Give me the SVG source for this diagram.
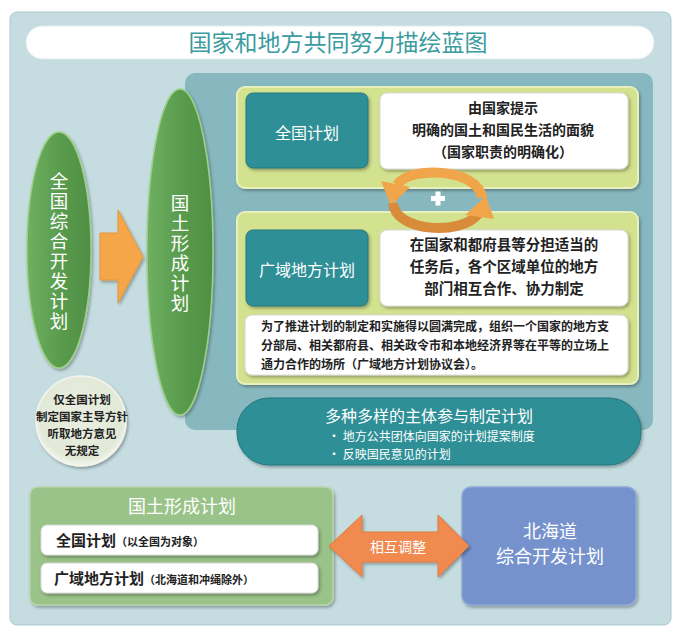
<svg xmlns="http://www.w3.org/2000/svg" width="680" height="638" viewBox="0 0 680 638">
<defs>
<filter id="sh" x="-10%" y="-10%" width="130%" height="130%"><feDropShadow dx="1.5" dy="2" stdDeviation="1.5" flood-color="#000" flood-opacity="0.3"/></filter>
<linearGradient id="gEl" x1="0" y1="0" x2="1" y2="0"><stop offset="0" stop-color="#6fb062"/><stop offset="0.5" stop-color="#5a9c4e"/><stop offset="1" stop-color="#4f8f44"/></linearGradient>
<radialGradient id="gCir" cx="0.5" cy="0.45" r="0.55"><stop offset="0" stop-color="#e9eee0"/><stop offset="0.85" stop-color="#e3e9d8"/><stop offset="1" stop-color="#f4f6ee"/></radialGradient>
</defs>
<style>
.cjk{font-family:"Noto Sans CJK SC","Noto Sans CJK JP",sans-serif}
.w{fill:#fff}
.d{fill:#222;font-weight:bold}
.teal{fill:#2e8f97;stroke:#25777e;stroke-width:1}
.wbox{fill:#fff;stroke:#d8d8d8;stroke-width:1}
.gbox{fill:#d3e28e;stroke:#e8f0bd;stroke-width:2}
.vt{writing-mode:vertical-rl;text-anchor:middle;letter-spacing:1.5px}
</style>
<rect x="10" y="12" width="661" height="613" rx="7" fill="#c5dde1" stroke="#a9c9cf" stroke-width="1"/>
<g id="title">
<rect x="26" y="26" width="628" height="33" rx="16" fill="#fff" stroke="#e0ecee" stroke-width="1"/>
<text x="338" y="51" class="cjk" font-size="23" fill="#3b9ba1" text-anchor="middle">国家和地方共同努力描绘蓝图</text>
</g>
<rect id="inner-panel" x="185" y="73" width="468" height="357" rx="10" fill="#88b8bf"/>
<g id="node-zenkoku-sogo">
<ellipse cx="59" cy="250" rx="32" ry="118" fill="url(#gEl)" stroke="#9ccf88" stroke-width="1.5" filter="url(#sh)"/>
<text x="59" y="252" class="cjk w vt" font-size="18.5">全国综合开发计划</text>
</g>
<g id="node-kokudo">
<ellipse cx="180" cy="252" rx="33" ry="163" fill="url(#gEl)" stroke="#9ccf88" stroke-width="1.5" filter="url(#sh)"/>
<text x="180" y="254" class="cjk w vt" font-size="18.5">国土形成计划</text>
</g>
<g id="node-note">
<circle cx="81" cy="421" r="45" fill="url(#gCir)" stroke="#f3f5ec" stroke-width="1.5" filter="url(#sh)"/>
<text class="cjk d" font-size="11.5" text-anchor="middle"><tspan x="82" y="404">仅全国计划</tspan><tspan x="82" y="421">制定国家主导方针</tspan><tspan x="82" y="438">听取地方意见</tspan><tspan x="82" y="455">无规定</tspan></text>
</g>
<g id="node-zenkoku-keikaku">
<rect x="237" y="87" width="401" height="101" rx="8" class="gbox" filter="url(#sh)"/>
<rect x="246" y="93" width="122" height="75" rx="7" class="teal" filter="url(#sh)"/>
<text x="307" y="139" class="cjk w" font-size="16" text-anchor="middle">全国计划</text>
<rect x="380" y="93" width="248" height="76" rx="7" class="wbox" filter="url(#sh)"/>
<text class="cjk d" font-size="14" text-anchor="middle"><tspan x="503" y="113">由国家提示</tspan><tspan x="503" y="135">明确的国土和国民生活的面貌</tspan><tspan x="503" y="157">（国家职责的明确化）</tspan></text>
</g>
<g id="node-kouiki">
<rect x="237" y="212" width="401" height="172" rx="8" class="gbox" filter="url(#sh)"/>
<rect x="246" y="230" width="122" height="76" rx="7" class="teal" filter="url(#sh)"/>
<text x="307" y="276" class="cjk w" font-size="16" text-anchor="middle">广域地方计划</text>
<rect x="380" y="230" width="248" height="76" rx="7" class="wbox" filter="url(#sh)"/>
<text class="cjk d" font-size="14.5" text-anchor="middle"><tspan x="504" y="250">在国家和都府县等分担适当的</tspan><tspan x="504" y="272">任务后，各个区域单位的地方</tspan><tspan x="504" y="294">部门相互合作、协力制定</tspan></text>
<rect x="245" y="315" width="383" height="60" rx="7" class="wbox" filter="url(#sh)"/>
<text class="cjk d" font-size="12"><tspan x="261" y="331">为了推进计划的制定和实施得以圆满完成，组织一个国家的地方支</tspan><tspan x="261" y="350">分部局、相关都府县、相关政令市和本地经济界等在平等的立场上</tspan><tspan x="261" y="369">通力合作的场所（广域地方计划协议会）。</tspan></text>
</g>
<g id="node-diverse">
<rect x="237" y="398" width="404" height="67" rx="32" class="teal" filter="url(#sh)"/>
<text x="429" y="422" class="cjk w" font-size="16" text-anchor="middle">多种多样的主体参与制定计划</text>
<text class="cjk w" font-size="12"><tspan x="328" y="441">• 地方公共团体向国家的计划提案制度</tspan><tspan x="328" y="459">• 反映国民意见的计划</tspan></text>
</g>
<g id="node-kokudo-bottom">
<rect x="30" y="487" width="303" height="118" rx="8" fill="#99c388" stroke="#b7d6a9" stroke-width="1.5" filter="url(#sh)"/>
<text x="182" y="513" class="cjk w" font-size="18" text-anchor="middle">国土形成计划</text>
<rect x="41" y="525" width="277" height="30" rx="6" class="wbox" filter="url(#sh)"/>
<text x="56" y="546" class="cjk d"><tspan font-size="15">全国计划</tspan><tspan font-size="11">（以全国为对象）</tspan></text>
<rect x="41" y="563" width="277" height="30" rx="6" class="wbox" filter="url(#sh)"/>
<text x="54" y="584" class="cjk d"><tspan font-size="15">广域地方计划</tspan><tspan font-size="11">（北海道和冲绳除外）</tspan></text>
</g>
<g id="node-hokkaido">
<rect x="462" y="487" width="174" height="118" rx="9" fill="#7592cd" stroke="#8ea6d8" stroke-width="1.5" filter="url(#sh)"/>
<text class="cjk w" font-size="18" text-anchor="middle"><tspan x="550" y="538">北海道</tspan><tspan x="550" y="563">综合开发计划</tspan></text>
</g>
<g id="connectors">
<polygon points="100,233 118,233 118,210 143,257 118,303 118,280 100,280" fill="#f4a64a" stroke="#e89535" stroke-width="1" filter="url(#sh)"/>
<g id="cycle">
<path d="M 482 198 C 480 170 412 164 397 185" fill="none" stroke="#f0a54a" stroke-width="10"/>
<polygon points="381,181 410,187 391,206" fill="#f0a54a"/>
<path d="M 393 203 C 395 232 462 236 478 214" fill="none" stroke="#d98b3c" stroke-width="10"/>
<polygon points="465,215 494,219 486,196" fill="#f0a54a"/>
<rect x="431" y="196" width="14" height="5" fill="#fff"/>
<rect x="435.5" y="191.5" width="5" height="14" fill="#fff"/>
</g>
<g id="mutual">
<polygon points="329,546 362,515 362,532 438,532 438,515 469,546 438,577 438,562 362,562 362,577" fill="#f08a4f" stroke="#e07a40" stroke-width="1" filter="url(#sh)"/>
<text x="398" y="552" class="cjk w" font-size="14" text-anchor="middle">相互调整</text>
</g>
</g>
</svg>
